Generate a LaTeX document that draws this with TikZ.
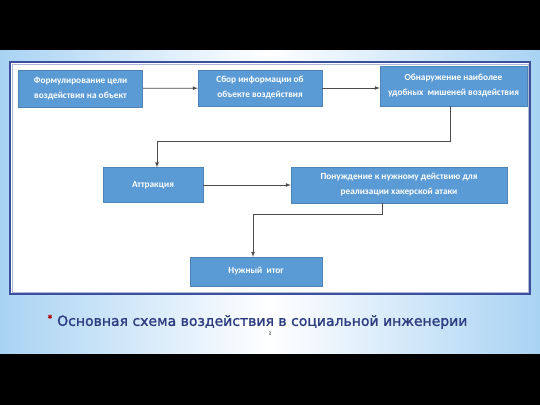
\documentclass[tikz,border=0pt]{standalone}
\usepackage{fontspec}
\setmainfont{Carlito}
\newfontfamily\titlefont[FakeBold=1.5]{DejaVu Sans}
\usetikzlibrary{arrows}

\definecolor{boxblue}{HTML}{5B9BD5}
\definecolor{frameblue}{HTML}{3C4F9E}
\definecolor{titleblue}{HTML}{2E3C80}
\definecolor{edgeblue}{HTML}{A9D3F3}

\begin{document}
\begin{tikzpicture}[x=1pt,y=-1pt,
  stage/.style={draw=boxblue!85!black, fill=boxblue, text=white, font=\bfseries\fontsize{9.3}{15}\selectfont,
    align=center, inner sep=0pt, line width=0.4pt},
  link/.style={black!70, line width=0.7pt, -latex}]
  \useasboundingbox (0,0) rectangle (540,405);
  % slide background
  \fill[black] (0,0) rectangle (540,405);
  \shade[left color=edgeblue, right color=edgeblue, middle color=white] (0,50) rectangle (540,353);
  \draw[frameblue, line width=2.2pt, fill=white] (10,62) rectangle (530,294);
  \draw[frameblue!40, line width=0.5pt] (12,64) rectangle (528,292);

  \node[stage, minimum width=124, minimum height=37] (goal) at (80.5,88.5)
    {Формулирование цели\\воздействия на объект};
  \node[stage, minimum width=124, minimum height=36] (info) at (260,88)
    {Сбор информации об\\объекте воздействия};
  \node[stage, minimum width=147, minimum height=40] (target) at (453.5,86)
    {Обнаружение наиболее\\удобных\ \ мишеней воздействия};
  \node[stage, minimum width=100, minimum height=35] (attr) at (153,185)
    {Аттракция};
  \node[stage, minimum width=216, minimum height=36] (push) at (399,185)
    {Понуждение к нужному действию для\\реализации хакерской атаки};
  \node[stage, minimum width=132, minimum height=29] (result) at (256,271.5)
    {Нужный\ \ итог};

  \path[link]
  (goal) edge (info)
  (info.east) edge (info.east -| target.west)
  (attr.east) edge (attr.east -| push.west)
  ;
  \draw[link] ([xshift=-3pt]target.south) -- ++(0,35) -| ([xshift=4pt]attr.north);
  \draw[link] ([xshift=-17pt]push.south) -- ++(0,11) -| ([xshift=-3pt]result.north);

  % caption
  \node[text=red!70!black, font=\titlefont\fontsize{9}{9}\selectfont] (star) at (50,318) {*};
  \node[anchor=west, text=titleblue, font=\titlefont\fontsize{14}{16}\selectfont, inner sep=0pt] (title) at (57,322)
    {Основная схема воздействия в социальной инженерии};
  \node[text=black!50, font=\titlefont\fontsize{4}{4}\selectfont] (num) at (270,333) {2};
\end{tikzpicture}
\end{document}
